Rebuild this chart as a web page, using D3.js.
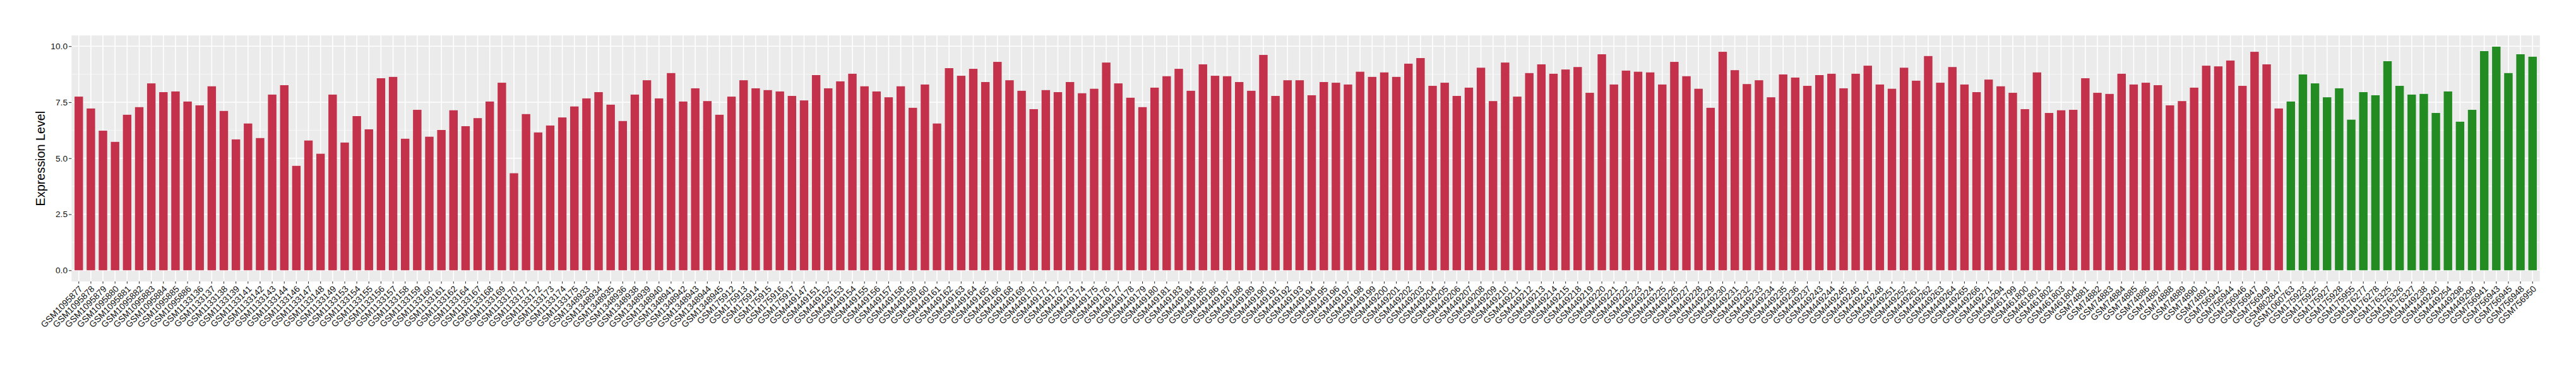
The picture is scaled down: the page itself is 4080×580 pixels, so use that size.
<!DOCTYPE html>
<html>
<head>
<meta charset="utf-8">
<script src="https://cdn.jsdelivr.net/npm/d3@7"></script>
<style>
  html, body { margin: 0; padding: 0; background: #ffffff; }
  svg { display: block; }
  text { font-family: "Liberation Sans", Arial, Helvetica, sans-serif; }
</style>
</head>
<body>
<script>
// ---- data ----
const groupASamples = [
  "GSM1095877","GSM1095878","GSM1095879","GSM1095880","GSM1095881","GSM1095882","GSM1095883","GSM1095884","GSM1095885","GSM1095886",
  "GSM1133136","GSM1133137","GSM1133138","GSM1133139","GSM1133141","GSM1133142","GSM1133143","GSM1133144","GSM1133146","GSM1133147",
  "GSM1133148","GSM1133149","GSM1133153","GSM1133154","GSM1133155","GSM1133156","GSM1133157","GSM1133158","GSM1133159","GSM1133160",
  "GSM1133161","GSM1133162","GSM1133164","GSM1133167","GSM1133168","GSM1133169","GSM1133170","GSM1133171","GSM1133172","GSM1133173",
  "GSM1133174","GSM1133175","GSM1348933","GSM1348934","GSM1348935","GSM1348936","GSM1348938","GSM1348939","GSM1348940","GSM1348941",
  "GSM1348942","GSM1348943","GSM1348944","GSM1348945","GSM175912","GSM175913","GSM175914","GSM175915","GSM175916","GSM175917",
  "GSM449147","GSM449151","GSM449152","GSM449153","GSM449154","GSM449155","GSM449156","GSM449157","GSM449158","GSM449159",
  "GSM449160","GSM449161","GSM449162","GSM449163","GSM449164","GSM449165","GSM449166","GSM449168","GSM449169","GSM449170",
  "GSM449171","GSM449172","GSM449173","GSM449174","GSM449175","GSM449176","GSM449177","GSM449178","GSM449179","GSM449180",
  "GSM449181","GSM449183","GSM449184","GSM449185","GSM449186","GSM449187","GSM449188","GSM449189","GSM449190","GSM449191",
  "GSM449192","GSM449193","GSM449194","GSM449195","GSM449196","GSM449197","GSM449198","GSM449199","GSM449200","GSM449201",
  "GSM449202","GSM449203","GSM449204","GSM449205","GSM449206","GSM449207","GSM449208","GSM449209","GSM449210","GSM449211",
  "GSM449212","GSM449213","GSM449214","GSM449215","GSM449218","GSM449219","GSM449220","GSM449221","GSM449222","GSM449223",
  "GSM449224","GSM449225","GSM449226","GSM449227","GSM449228","GSM449229","GSM449230","GSM449231","GSM449232","GSM449233",
  "GSM449234","GSM449235","GSM449236","GSM449237","GSM449243","GSM449244","GSM449245","GSM449246","GSM449247","GSM449248",
  "GSM449251","GSM449252","GSM449261","GSM449262","GSM449263","GSM449264","GSM449265","GSM449266","GSM449271","GSM449294",
  "GSM461799","GSM461800","GSM461801","GSM461802","GSM461803","GSM461804","GSM74881","GSM74882","GSM74883","GSM74884",
  "GSM74885","GSM74886","GSM74887","GSM74888","GSM74889","GSM74890","GSM74891","GSM756942","GSM756944","GSM756946",
  "GSM756947","GSM756949","GSM802847"
];
const groupAValues = [
  7.75, 7.22, 6.23, 5.73, 6.94, 7.28, 8.34, 7.95, 7.98, 7.53, 7.36, 8.21, 7.11, 5.84, 6.55, 5.90,
  7.84, 8.26, 4.66, 5.79, 5.20, 7.84, 5.70, 6.88, 6.29, 8.57, 8.63, 5.87, 7.16, 5.96, 6.26, 7.14, 6.43, 6.79, 7.53, 8.37, 4.33,
  6.97, 6.15, 6.46, 6.82, 7.31, 7.67, 7.95, 7.39, 6.66, 7.84, 8.48, 7.67, 8.80, 7.53, 8.12, 7.55, 6.94, 7.75, 8.48, 8.12, 8.04,
  7.98, 7.78, 7.58, 8.71, 8.12, 8.43, 8.77, 8.21, 7.98, 7.72, 8.21, 7.25, 8.29, 6.55, 9.02, 8.68, 8.99, 8.40, 9.30, 8.48, 8.01,
  7.19, 8.04, 7.95, 8.40, 7.90, 8.10, 9.27, 8.34, 7.70, 7.28, 8.15, 8.66, 8.99, 8.01, 9.19, 8.68, 8.66, 8.40, 8.01, 9.61,
  7.78, 8.48, 8.48, 7.81, 8.40, 8.37, 8.29, 8.86, 8.63, 8.83, 8.63, 9.22, 9.47, 8.23, 8.37, 7.78, 8.15, 9.04, 7.55, 9.27, 7.75,
  8.80, 9.19, 8.77, 8.96, 9.07, 7.92, 9.64, 8.29, 8.91, 8.86, 8.83, 8.29, 9.30, 8.66, 8.10, 7.25, 9.75, 8.93, 8.31, 8.48, 7.72,
  8.74, 8.60, 8.23, 8.71, 8.77, 8.12, 8.77, 9.13, 8.29, 8.10, 9.04, 8.46, 9.56, 8.37, 9.07, 8.29, 7.95, 8.51, 8.21, 7.92, 7.19,
  8.83, 7.02, 7.14, 7.16, 8.57, 7.92, 7.87, 8.77, 8.29, 8.37, 8.26, 7.36, 7.55, 8.15, 9.13, 9.10, 9.36, 8.23, 9.75, 9.19, 7.22
];
const groupBSamples = [
  "GSM1060763","GSM175923","GSM175925","GSM175927","GSM175928","GSM175955","GSM176277","GSM176278","GSM176325","GSM176326",
  "GSM176327","GSM449238","GSM449240","GSM449254","GSM449298","GSM449299","GSM756941","GSM756943","GSM756945","GSM756948",
  "GSM756950"
];
const groupBValues = [
  7.53, 8.74, 8.34, 7.72, 8.12, 6.72, 7.95, 7.81, 9.33, 8.23, 7.84, 7.87, 7.02, 7.98, 6.63, 7.16, 9.78, 9.98, 8.80, 9.64, 9.53
];
const yTicks = [0, 2.5, 5, 7.5, 10];
const yMinorTicks = [1.25, 3.75, 6.25, 8.75];
const yTitle = "Expression Level";
const colorA = "#C3314A";
const colorB = "#228B22";

// ---- build table ----
const data = [];
groupASamples.forEach((s, i) => data.push({ sample: s, value: groupAValues[i], color: colorA }));
groupBSamples.forEach((s, i) => data.push({ sample: s, value: groupBValues[i], color: colorB }));

// ---- layout ----
const W = 4080, H = 580;
const panel = { left: 113.3, right: 4022.7, top: 56.2, bottom: 446 };

const svg = d3.select("body").append("svg")
  .attr("width", W).attr("height", H)
  .attr("viewBox", `0 0 ${W} ${H}`);
svg.append("rect").attr("width", W).attr("height", H).attr("fill", "#ffffff");

const x = d3.scaleBand()
  .domain(data.map(d => d.sample))
  .range([panel.left, panel.right])
  .paddingInner(0.3)
  .paddingOuter(0.25);

const vmax = d3.max(data, d => d.value);
const y = d3.scaleLinear()
  .domain([-0.05 * vmax, vmax * 1.05])
  .range([panel.bottom, panel.top]);

// panel background
svg.append("rect")
  .attr("x", panel.left).attr("y", panel.top)
  .attr("width", panel.right - panel.left)
  .attr("height", panel.bottom - panel.top)
  .attr("fill", "#EBEBEB");

const grid = svg.append("g");
grid.selectAll("line.minor").data(yMinorTicks).join("line")
  .attr("x1", panel.left).attr("x2", panel.right)
  .attr("y1", d => y(d)).attr("y2", d => y(d))
  .attr("stroke", "#F7F7F7").attr("stroke-width", 1);
grid.selectAll("line.major").data(yTicks).join("line")
  .attr("x1", panel.left).attr("x2", panel.right)
  .attr("y1", d => y(d)).attr("y2", d => y(d))
  .attr("stroke", "#ffffff").attr("stroke-width", 1.6);
grid.selectAll("line.vmajor").data(data).join("line")
  .attr("x1", d => x(d.sample) + x.bandwidth() / 2)
  .attr("x2", d => x(d.sample) + x.bandwidth() / 2)
  .attr("y1", panel.top).attr("y2", panel.bottom)
  .attr("stroke", "#ffffff").attr("stroke-width", 1.6);

// bars
svg.append("g").selectAll("rect").data(data).join("rect")
  .attr("x", d => x(d.sample))
  .attr("width", x.bandwidth())
  .attr("y", d => y(d.value))
  .attr("height", d => y(0) - y(d.value))
  .attr("fill", d => d.color);

// y axis
const yAxis = d3.axisLeft(y).tickValues(yTicks).tickFormat(d3.format(".1f")).tickSize(4.3).tickPadding(2);
const gy = svg.append("g").attr("transform", `translate(${panel.left},0)`).call(yAxis);
gy.select(".domain").remove();
gy.selectAll(".tick line").attr("stroke", "#333333").attr("stroke-width", 1.1);
gy.selectAll(".tick text")
  .attr("fill", "#111111")
  .style("font-size", "13.7px")
  .style("font-family", "'Liberation Sans', Arial, sans-serif");

// x axis
const xAxis = d3.axisBottom(x).tickSize(3.6).tickPadding(0);
const gx = svg.append("g").attr("transform", `translate(0,${panel.bottom})`).call(xAxis);
gx.select(".domain").remove();
gx.selectAll(".tick line").attr("stroke", "#333333").attr("stroke-width", 1.1);
gx.selectAll(".tick text")
  .attr("fill", "#111111")
  .style("font-size", "14px")
  .style("font-family", "'Liberation Sans', Arial, sans-serif")
  .attr("text-anchor", "end")
  .attr("dy", null)
  .attr("y", null)
  .attr("transform", "translate(6.7,12.8) rotate(-45)");

// y title
svg.append("text")
  .attr("transform", `translate(71.2,${(panel.top + panel.bottom) / 2}) rotate(-90)`)
  .attr("text-anchor", "middle")
  .attr("fill", "#000000")
  .style("font-size", "19.8px")
  .text(yTitle);
</script>
</body>
</html>
